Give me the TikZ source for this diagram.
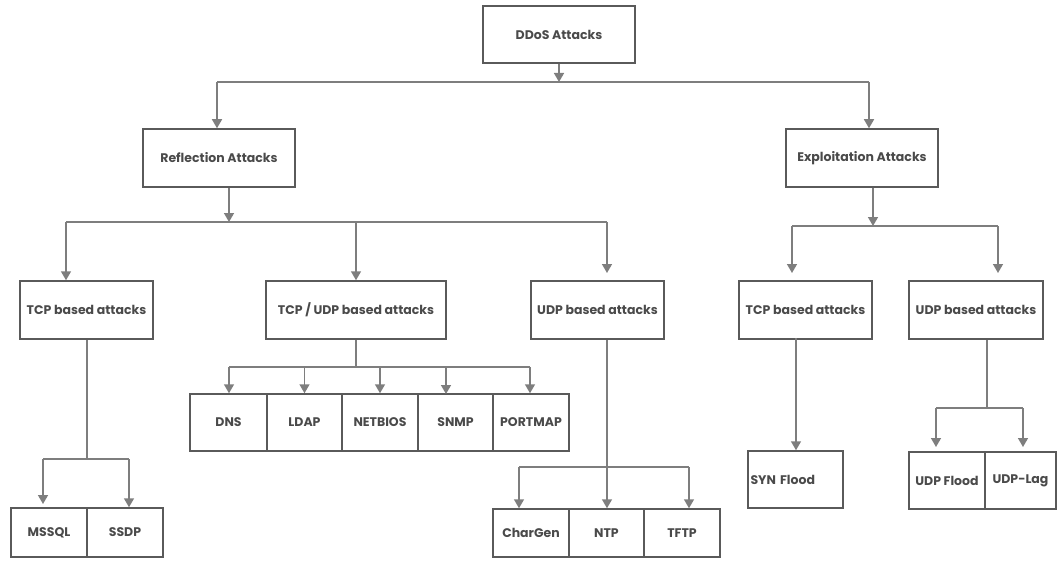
\documentclass[tikz,border=0pt]{standalone}
\usepackage{fontspec}
\setmainfont{Poppins}
\usetikzlibrary{arrows.meta}
\definecolor{boxc}{HTML}{5A5A5A}
\definecolor{linec}{HTML}{7E7E7E}
\definecolor{txtc}{HTML}{4A4A4A}
\begin{document}
\begin{tikzpicture}[x=1pt,y=-1pt,
  box/.style={draw=boxc, line width=1.5pt, rectangle, inner sep=0pt, text=txtc,
    font=\fontsize{12.5}{14}\selectfont\bfseries},
  conn/.style={draw=linec, line width=1.5pt},
  arr/.style={conn, -{Triangle[width=10pt,length=9pt]}}]
\useasboundingbox (0,0) rectangle (1058,567);
% level 0
\node[box, minimum width=152, minimum height=57] (ddos) at (559,34.5) {DDoS Attacks};
% level 1
\node[box, minimum width=152, minimum height=58] (refl) at (219,158) {Reflection Attacks};
\node[box, minimum width=152, minimum height=58] (expl) at (862,158) {Exploitation Attacks};
% level 2
\node[box, minimum width=133, minimum height=58] (tcpa) at (86.5,310) {TCP based attacks};
\node[box, minimum width=180, minimum height=58] (tcpudp) at (356,310) {TCP / UDP based attacks};
\node[box, minimum width=133, minimum height=58] (udpa) at (597.5,310) {UDP based attacks};
\node[box, minimum width=133, minimum height=58] (tcpb) at (805.5,310) {TCP based attacks};
\node[box, minimum width=134, minimum height=58] (udpb) at (976,310) {UDP based attacks};
% level 3
\node[box, minimum width=77, minimum height=57] (dns) at (228.5,422.5) {DNS};
\node[box, minimum width=75, minimum height=57] (ldap) at (304.5,422.5) {LDAP};
\node[box, minimum width=76, minimum height=57] (netbios) at (380,422.5) {NETBIOS};
\node[box, minimum width=75, minimum height=57] (snmp) at (455.5,422.5) {SNMP};
\node[box, minimum width=76, minimum height=57] (portmap) at (531,422.5) {PORTMAP};
\node[box, minimum width=76, minimum height=49] (mssql) at (49,532.5) {MSSQL};
\node[box, minimum width=76, minimum height=49] (ssdp) at (125,532.5) {SSDP};
\node[box, minimum width=76, minimum height=48] (chargen) at (531,533) {CharGen};
\node[box, minimum width=75, minimum height=48] (ntp) at (606.5,533) {NTP};
\node[box, minimum width=76, minimum height=48] (tftp) at (682,533) {TFTP};
\node[box, text width=90, inner xsep=2.5, align=left, minimum height=57] (syn) at (795.5,479.5) {SYN Flood};
\node[box, minimum width=76, minimum height=57] (udpflood) at (947,480.5) {UDP Flood};
\node[box, minimum width=71, minimum height=57] (udplag) at (1020.5,480.5) {UDP-Lag};
% junction coordinates
\coordinate (j0) at (559,82);
\coordinate (j0l) at (217,82);
\coordinate (j0r) at (869,82);
\coordinate (j1) at (229,222);
\coordinate (j1l) at (66,222);
\coordinate (j1m) at (356,222);
\coordinate (j1r) at (607,222);
\coordinate (j1e) at (607,273);
\coordinate (j2) at (873,226);
\coordinate (j2l) at (792,226);
\coordinate (j2r) at (998,226);
\coordinate (j2le) at (792,273);
\coordinate (j2re) at (998,273);
\coordinate (j3) at (87,459);
\coordinate (j3l) at (43,459);
\coordinate (j3r) at (129,459);
\coordinate (j3le) at (43,504);
\coordinate (j4) at (356,367);
\coordinate (j4l) at (229,367);
\coordinate (j4r) at (530,367);
\coordinate (j5) at (607,467);
\coordinate (j5l) at (519,467);
\coordinate (j5r) at (689,467);
\coordinate (j6) at (987,408);
\coordinate (j6l) at (936,408);
\coordinate (j6r) at (1023,408);
\coordinate (j6le) at (936,447);
\coordinate (j6re) at (1023,447);
% level 0 -> 1
\draw[arr] (ddos.south) -- (j0);
\draw[conn] (j0l) -- (j0r);
\draw[arr] (j0l) -- (j0l |- refl.north);
\draw[arr] (j0r) -- (j0r |- expl.north);
% reflection
\draw[arr] (j1 |- refl.south) -- (j1);
\draw[conn] (j1l) -- (j1r);
\draw[arr] (j1l) -- (j1l |- tcpa.north);
\draw[arr] (j1m) -- (tcpudp.north);
\draw[arr] (j1r) -- (j1e);
% exploitation
\draw[arr] (j2 |- expl.south) -- (j2);
\draw[conn] (j2l) -- (j2r);
\draw[arr] (j2l) -- (j2le);
\draw[arr] (j2r) -- (j2re);
% tcp (reflection)
\draw[conn] (j3 |- tcpa.south) -- (j3);
\draw[conn] (j3l) -- (j3r);
\draw[arr] (j3l) -- (j3le);
\draw[arr] (j3r) -- (j3r |- ssdp.north);
% tcp/udp
\draw[conn] (tcpudp.south) -- (j4);
\draw[conn] (j4l) -- (j4r);
\draw[arr] (j4l) -- (j4l |- dns.north);
\draw[arr] (j4 -| ldap) -- (ldap.north);
\draw[arr] (j4 -| netbios) -- (netbios.north);
\draw[arr] (j4 -| 446,0) -- (446,394);
\draw[arr] (j4r) -- (j4r |- portmap.north);
% udp (reflection)
\draw[conn] (j5 |- udpa.south) -- (j5);
\draw[conn] (j5l) -- (j5r);
\draw[arr] (j5l) -- (j5l |- chargen.north);
\draw[arr] (j5) -- (j5 |- ntp.north);
\draw[arr] (j5r) -- (j5r |- tftp.north);
% tcp (exploitation)
\draw[arr] (796,338) -- (syn.north -| 796,0);
% udp (exploitation)
\draw[conn] (j6 |- udpb.south) -- (j6);
\draw[conn] (j6l) -- (j6r);
\draw[arr] (j6l) -- (j6le);
\draw[arr] (j6r) -- (j6re);
\end{tikzpicture}
\end{document}
